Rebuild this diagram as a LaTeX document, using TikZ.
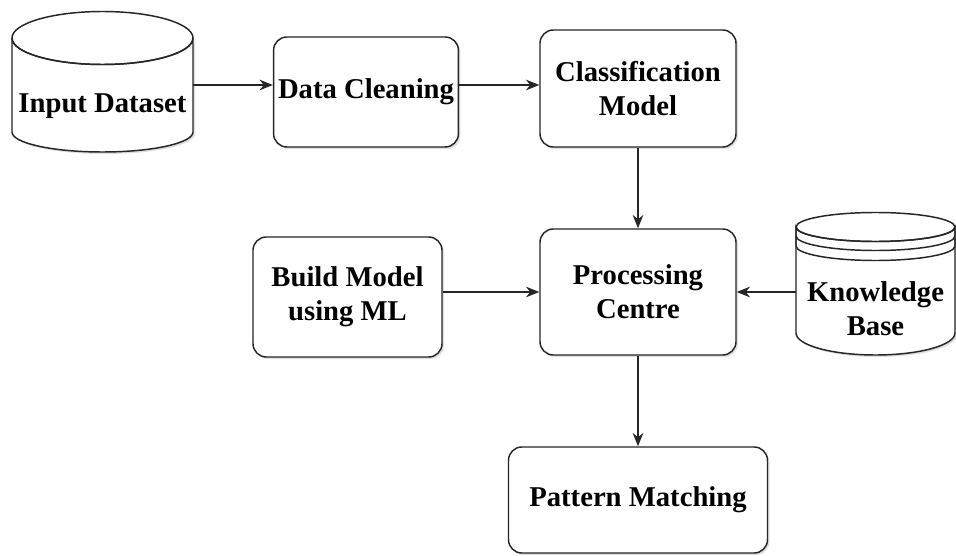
\documentclass[tikz,border=0pt]{standalone}
\usepackage{fontspec}
\setmainfont{Liberation Serif}
\usetikzlibrary{arrows.meta,shadows}
\tikzset{
  txt/.style={align=center, font=\fontsize{21.5}{25.5}\selectfont\bfseries},
  box/.style={txt, draw=black!85, line width=1.1pt, rounded corners=10pt, fill=white,
    drop shadow={shadow xshift=1.5pt, shadow yshift=-1.5pt, opacity=0.25}},
  lbl/.style={txt, inner sep=0pt},
  anchorbox/.style={inner sep=0pt, outer sep=0pt},
  cyl/.style={draw=black!85, line width=1.1pt, fill=white,
    drop shadow={shadow xshift=1.5pt, shadow yshift=-1.5pt, opacity=0.25}},
  cylline/.style={draw=black!85, line width=1.1pt},
  arr/.style={draw=black!85, line width=1.1pt, -{Stealth[length=10pt,width=8pt]}}
}
\begin{document}
\begin{tikzpicture}[x=0.75pt,y=-0.75pt]
\useasboundingbox[fill=white] (0,0) rectangle (956,556);

% Input Dataset cylinder
\path[cyl] (12,38) -- (12,132) arc (180:0:90.5 and 20) -- (193,38) arc (0:180:90.5 and 26.5) -- cycle;
\draw[cylline] (102.5,38) ellipse (90.5 and 26.5);
\node[anchorbox, minimum width=135.75pt, minimum height=105pt] (input) at (102.5,85) {};
\node[lbl] (inputtxt) at (102.5,106) {Input Dataset};

% Knowledge Base cylinder
\path[cyl] (796,227) -- (796,333) arc (180:0:79.5 and 22) -- (955,227) arc (0:180:79.5 and 14.5) -- cycle;
\draw[cylline] (875.5,227) ellipse (79.5 and 14.5);
\draw[cylline] (796,227) -- (796,236) arc (180:0:79.5 and 14.5) -- (955,227);
\draw[cylline] (796,236) -- (796,246) arc (180:0:79.5 and 14.5) -- (955,236);
\node[anchorbox, minimum width=119.25pt, minimum height=90pt] (kb) at (875.5,293) {};
\node[lbl] (kbtxt) at (875.5,309) {Knowledge\\Base};

% Boxes
\node[box, minimum width=136.5pt, minimum height=82.5pt] (clean) at (366,92) {Data Cleaning};
\node[box, minimum width=147pt, minimum height=87.75pt] (classif) at (638,88.5) {Classification\\Model};
\node[box, minimum width=147pt, minimum height=94.5pt] (proc) at (638,292) {Processing\\Centre};
\node[box, minimum width=141.75pt, minimum height=90pt] (build) at (347.5,297) {Build Model\\using ML};
\node[box, minimum width=194.25pt, minimum height=79.5pt] (pattern) at (638,500) {Pattern Matching};

% Connectors
\draw[arr] (input.east) -- (input.east -| clean.west);
\draw[arr] (clean.east |- input.east) -- (classif.west |- input.east);
\draw[arr] (classif.south) -- (proc.north);
\draw[arr] (build.east |- proc.west) -- (proc.west);
\draw[arr] (kb.west |- proc.east) -- (proc.east);
\draw[arr] (proc.south) -- (pattern.north);
\end{tikzpicture}
\end{document}
